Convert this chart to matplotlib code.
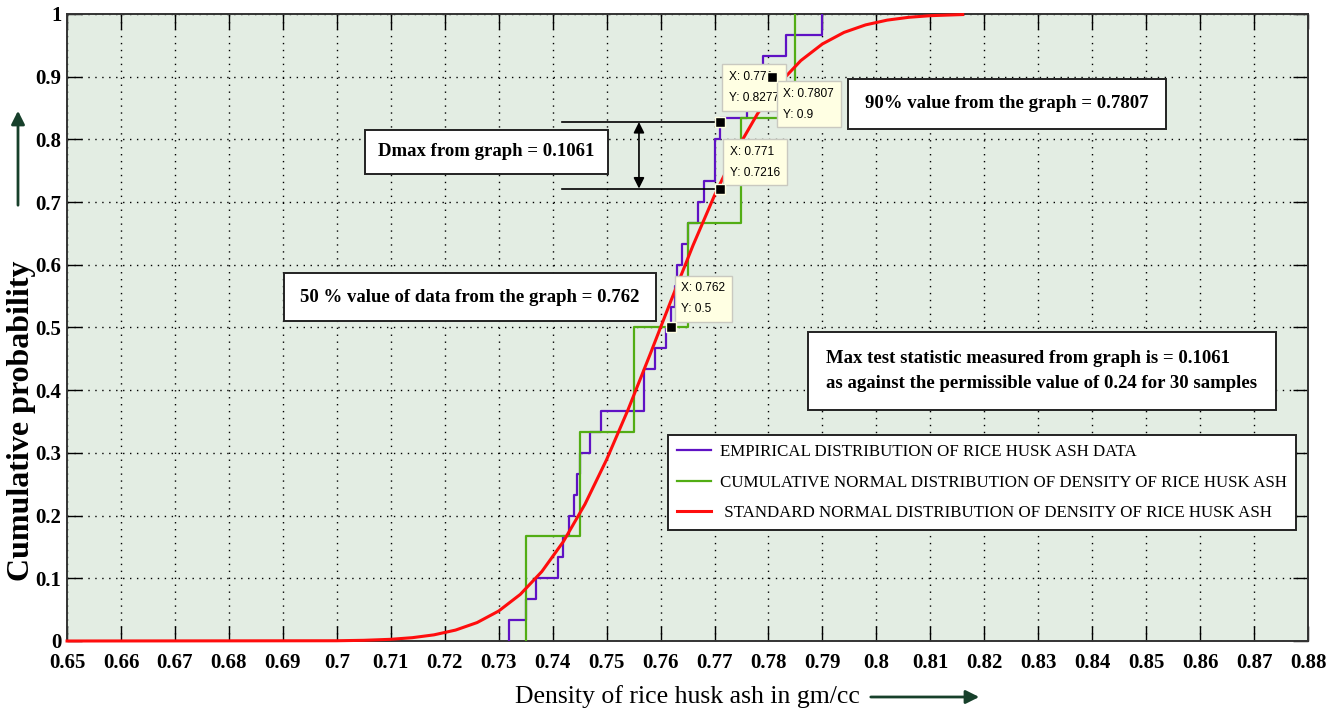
import numpy as np
import matplotlib.pyplot as plt
from matplotlib.patches import FancyArrowPatch

plt.rcParams['font.family'] = ['Liberation Serif', 'DejaVu Serif']

# ---- data --------------------------------------------------------------
# 30 density samples of rice husk ash (gm/cc), sorted
rha_density = [0.732, 0.735, 0.737, 0.741, 0.742, 0.743, 0.744, 0.7445, 0.745, 0.747,
               0.749, 0.757, 0.757, 0.759, 0.761, 0.762, 0.7627, 0.763, 0.764, 0.765,
               0.767, 0.768, 0.770, 0.770, 0.771, 0.776, 0.779, 0.779, 0.7833, 0.790]

# grouped densities for the cumulative normal stairs
group_density = [0.735, 0.745, 0.755, 0.765, 0.775, 0.785]
group_count = [5, 5, 5, 5, 5, 5]

# standard normal curve of density
normal_x = [0.650, 0.700, 0.705, 0.710, 0.714, 0.718, 0.722, 0.726, 0.730, 0.734,
            0.738, 0.742, 0.746, 0.750, 0.754, 0.758, 0.762, 0.766, 0.770, 0.774,
            0.778, 0.782, 0.786, 0.790, 0.794, 0.798, 0.802, 0.806, 0.810, 0.816]
normal_p = [0.0, 0.0004, 0.0011, 0.0027, 0.0053, 0.0098, 0.0174, 0.0294, 0.0478, 0.0743,
            0.1108, 0.1587, 0.2183, 0.2893, 0.3694, 0.4558, 0.5442, 0.6306, 0.7107, 0.7817,
            0.8413, 0.8892, 0.9257, 0.9522, 0.9706, 0.9826, 0.9902, 0.9947, 0.9973, 0.9991]

# data cursors: x, y, label x, label y
tip_x = [0.762, 0.771, 0.771, 0.7807]
tip_y = [0.5, 0.7216, 0.8277, 0.9]
tip_xlabel = ['0.762', '0.771', '0.771', '0.7807']
tip_ylabel = ['0.5', '0.7216', '0.8277', '0.9']

dmax_lo, dmax_hi = 0.7216, 0.8277

x_ticks = np.round(np.arange(0.65, 0.8801, 0.01), 2)
y_ticks = np.round(np.arange(0, 1.001, 0.1), 1)

# ---- colours -----------------------------------------------------------
PURPLE = '#5f12c4'
GREEN = '#52ad14'
RED = '#ff0d0d'
BG = '#e3ede3'
ARROW = '#17402b'

fig = plt.figure(figsize=(13.41, 7.17), dpi=100)
ax = fig.add_axes([0.050, 0.106, 0.9254, 0.8745])
ax.set_facecolor(BG)

# empirical cdf
n = len(rha_density)
emp_x = np.r_[rha_density[0], rha_density]
emp_y = np.r_[0, np.arange(1, n + 1) / n]
ax.step(emp_x, emp_y, where='post', color=PURPLE, lw=1.6, zorder=3,
        label='EMPIRICAL DISTRIBUTION OF RICE HUSK ASH DATA')

# cumulative normal (grouped)
grp_x = np.r_[group_density[0], group_density]
grp_y = np.r_[0, np.cumsum(group_count) / np.sum(group_count)]
ax.step(grp_x, grp_y, where='post', color=GREEN, lw=1.6, zorder=3,
        label='CUMULATIVE NORMAL DISTRIBUTION OF DENSITY OF RICE HUSK ASH')

# normal curve
ax.plot(normal_x, normal_p, color=RED, lw=2.2, zorder=4, clip_on=False,
        label=' STANDARD NORMAL DISTRIBUTION OF DENSITY OF RICE HUSK ASH')

ax.set_xlim(0.65, 0.88)
ax.set_ylim(0, 1)
ax.set_xticks(x_ticks)
ax.set_xticklabels(['%g' % v for v in x_ticks])
ax.set_yticks(y_ticks)
ax.set_yticklabels(['%g' % v for v in y_ticks])
ax.tick_params(direction='in', length=11, width=1, top=True, right=True,
               labelsize=15, colors='black')
for lab in ax.get_xticklabels() + ax.get_yticklabels():
    lab.set_fontweight('bold')
ax.tick_params(axis='x', pad=9)
ax.tick_params(axis='y', pad=4)
ax.grid(True, color='black', ls=(0, (1, 4)), lw=1.0)
for sp in ax.spines.values():
    sp.set_linewidth(1.4)
    sp.set_color('#333333')

# Dmax markers
ax.plot([0.7417, tip_x[2]], [dmax_hi, dmax_hi], color='black', lw=1.2, zorder=5)
ax.plot([0.7417, tip_x[1]], [dmax_lo, dmax_lo], color='black', lw=1.2, zorder=5)
ax.annotate('', xy=(0.756, dmax_hi), xytext=(0.756, dmax_lo),
            arrowprops=dict(arrowstyle='<|-|>', color='black', lw=1.2,
                            mutation_scale=16, shrinkA=0, shrinkB=0), zorder=5)

# data cursors
tip_font = dict(family=['Liberation Sans', 'DejaVu Sans'], size=8.6)
tip_box = dict(boxstyle='square,pad=0.55', fc='#ffffe3', ec='#c9c9c0', lw=1)
tip_offsets = [(10, 12, 'bottom'), (10, 10, 'bottom'), (9, 18, 'bottom'), (11, -11, 'top')]
for x, y, lx, ly, (dx, dy, va) in zip(tip_x, tip_y, tip_xlabel, tip_ylabel, tip_offsets):
    ax.annotate('X: %s\nY: %s' % (lx, ly), xy=(x, y), xytext=(dx * 0.72, dy * 0.72),
                textcoords='offset points', ha='left', va=va, linespacing=2.0,
                bbox=tip_box, zorder=6, **tip_font)
for x, y in zip(tip_x, tip_y):
    ax.plot(x, y, 's', color='black', ms=7, mec='#ffffe3', mew=1, zorder=7)

# text boxes
box = dict(boxstyle='square,pad=0.7', fc='white', ec='#222222', lw=1.4)
ax.text(0.7277, 0.780, 'Dmax from graph = 0.1061', ha='center', va='center',
        fontsize=13.5, fontweight='bold', bbox=box, zorder=6)
ax.text(0.7247, 0.5486, '50 % value of data from the graph = 0.762', ha='center',
        va='center', fontsize=13.5, fontweight='bold',
        bbox=dict(box, boxstyle='square,pad=0.85'), zorder=6)
ax.text(0.8242, 0.8565, '90% value from the graph = 0.7807', ha='center', va='center',
        fontsize=13.5, fontweight='bold',
        bbox=dict(box, boxstyle='square,pad=0.9'), zorder=6)
ax.text(0.8307, 0.4306, 'Max test statistic measured from graph is = 0.1061\n'
        'as against the permissible value of 0.24 for 30 samples',
        ha='center', va='center', multialignment='left', linespacing=1.55,
        fontsize=13.5, fontweight='bold',
        bbox=dict(box, boxstyle='square,pad=1.0'), zorder=6)

# legend
leg = ax.legend(loc='upper left', bbox_to_anchor=(0.4843, 0.3285), fontsize=12.2,
                frameon=True, fancybox=False, framealpha=1, edgecolor='#222222',
                handlelength=2.0, handletextpad=0.5, labelspacing=0.85,
                borderpad=0.55, borderaxespad=0)
leg.get_frame().set_linewidth(1.4)
leg.set_zorder(8)

# axis labels with arrows
fig.text(22 / 1341, 1 - 421 / 717, 'Cumulative probability', rotation=90,
         ha='center', va='center', fontsize=23, fontweight='bold')
fig.text(687 / 1341, 1 - 697 / 717, 'Density of rice husk ash in gm/cc',
         ha='center', va='center', fontsize=18.5)
fig.add_artist(FancyArrowPatch((18 / 1341, 1 - 208 / 717), (18 / 1341, 1 - 108 / 717),
                               transform=fig.transFigure, arrowstyle='-|>',
                               mutation_scale=20, color=ARROW, lw=2))
fig.add_artist(FancyArrowPatch((868 / 1341, 1 - 697 / 717), (982 / 1341, 1 - 697 / 717),
                               transform=fig.transFigure, arrowstyle='-|>',
                               mutation_scale=20, color=ARROW, lw=2))

fig.savefig('out.png', dpi=100, facecolor='white')
